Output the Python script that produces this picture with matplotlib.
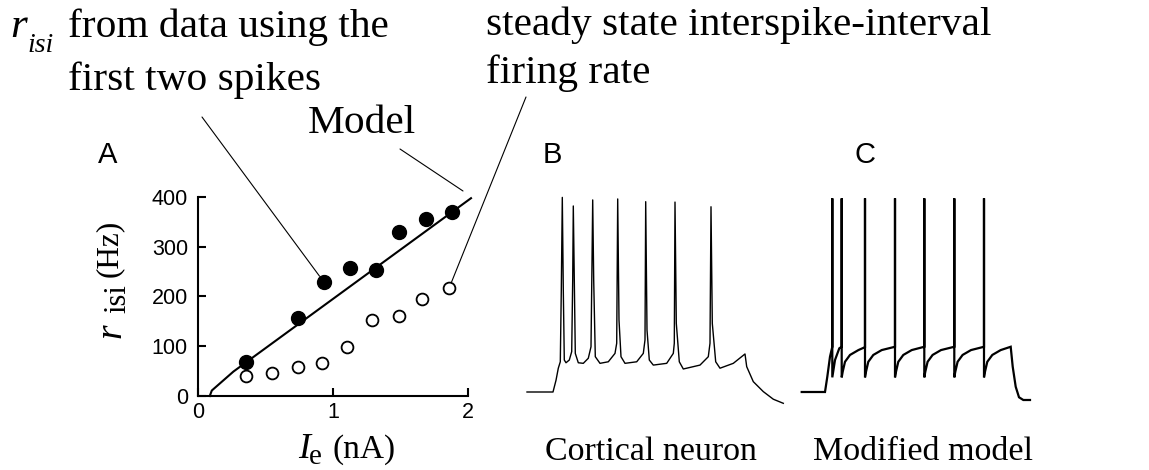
import matplotlib
matplotlib.use("Agg")
import matplotlib.pyplot as plt

# ---------------- data ----------------
# Panel A: firing rate vs injected current
ie_first = [0.353, 0.736, 0.932, 1.123, 1.316, 1.489, 1.686, 1.877]
r_first = [69, 157, 228, 257, 253, 330, 355, 370]
ie_steady = [0.353, 0.548, 0.736, 0.914, 1.099, 1.289, 1.484, 1.659, 1.857]
r_steady = [41, 46, 58, 67, 99, 153, 161, 194, 216]
model_ie = [0.085, 0.10, 0.26, 2.02]
model_r = [0, 11, 49, 397]
x_ticks = [0, 1, 2]
y_ticks = [0, 100, 200, 300, 400]

# Panel B: cortical neuron voltage trace (ms, mV)
B_t = [7, 20, 33, 36, 38.3, 40.3, 41.3, 42.3, 43.3, 44.3, 46, 49.3, 51.7, 52.7, 53.3,
       54.3, 55.3, 58.3, 63.3, 68.3, 71, 72, 72.7, 73.7, 75.3, 80, 88.3, 95, 96.7,
       97.7, 99, 101, 105, 116.7, 123.3, 125, 125.7, 127, 129.3, 133.3, 146.7,
       153.3, 154.3, 155, 156.3, 159.3, 163.3, 180, 188.3, 190, 191, 192.3, 195.7,
       200, 213.3, 225, 226.7, 233.3, 243.3, 253.3, 263.3]
B_v = [-70, -70, -70, -64, -57.8, -54.5, -17.7, 29.8, -17.7, -53.6, -55, -53.6, -49.3,
       -12.6, 25.4, -12.6, -50.2, -55, -55.3, -52.7, -46.8, -3.8, 28.5, -12.6, -51.9,
       -55.3, -54.5, -50.2, -45, 29, -33.1, -51.9, -55.3, -54.5, -50.2, -43.3, 27.6,
       -38.2, -53.6, -56.2, -55.3, -50.2, -45, 27.4, -34.8, -54.5, -58.2, -56.2,
       -51.9, -45, 25, -34.8, -54.5, -57.8, -55.3, -50.5, -57, -64.7, -69.8, -73.7,
       -75.8]

# Panel C: modified model voltage trace (ms, mV)
C_t = [6.7, 30, 32.3, 35, 37.3, 37.3, 37.3, 40, 44.3, 46.7, 46.7, 46.7,
       47.7, 50, 55, 63.4, 70, 70, 70,
       71, 73.3, 78.3, 86.7, 100, 100, 100,
       101, 103.3, 108.3, 116.7, 129.3, 129.3, 129.3,
       130.3, 132.6, 137.6, 146, 159.3, 159.3, 159.3,
       160.3, 162.6, 167.6, 176, 189, 189, 189,
       190, 192.3, 197.3, 205.7, 215.7, 217.7, 220.7, 224, 228.3, 235]
C_v = [-70, -70, -62.2, -51.9, -46.8, 29.3, -62.5, -53.6, -47.6, -46.8, 29.3, -62.5,
       -59.6, -54.5, -51, -48.5, -47, 29.3, -62.5,
       -59.6, -54.5, -51, -48.5, -46.8, 29.3, -62.5,
       -59.6, -54.5, -51, -48.5, -46.8, 29.3, -62.5,
       -59.6, -54.5, -51, -48.5, -46.8, 29.3, -62.5,
       -59.6, -54.5, -51, -48.5, -46.8, 29.3, -62.5,
       -59.6, -54.5, -51, -48.5, -46.8, -57, -67.3, -72.7, -74.1, -74.1]

# ---------------- figure ----------------
W, H = 1149, 470
fig = plt.figure(figsize=(W / 100, H / 100), dpi=100)
SERIF = ['Liberation Serif', 'DejaVu Serif']
SANS = ['Liberation Sans', 'DejaVu Sans']


def P(x, y):
    return x / W, 1 - y / H


# Panel A axes
axA = fig.add_axes([198.3 / W, (H - 396) / H, 270 / W, 199.3 / H])
axA.set_xlim(0, 2)
axA.set_ylim(0, 400)
for s in ['top', 'right']:
    axA.spines[s].set_visible(False)
for s in ['left', 'bottom']:
    axA.spines[s].set_linewidth(1.5)
axA.set_xticks(x_ticks)
axA.set_yticks(y_ticks)
axA.tick_params(direction='in', length=6, width=1.5, labelsize=15.5)
axA.tick_params(axis='y', pad=7.5)
axA.tick_params(axis='x', pad=4)
for lab in axA.get_xticklabels() + axA.get_yticklabels():
    lab.set_family(SANS)

axA.plot(model_ie, model_r, color='black', lw=1.5, clip_on=False, zorder=2)
axA.plot(ie_first, r_first, 'o', color='black', ms=10, clip_on=False, zorder=3)
axA.plot(ie_steady, r_steady, 'o', mfc='white', mec='black', mew=1.3, ms=8.5,
         clip_on=False, zorder=3)

# leader lines
axA.annotate('', xy=(ie_first[2], r_first[2]), xycoords='data',
             xytext=(202, H - 117), textcoords='figure pixels',
             arrowprops=dict(arrowstyle='-', lw=0.8, color='black', shrinkA=0, shrinkB=5.5))
axA.annotate('', xy=(ie_steady[-1], r_steady[-1]), xycoords='data',
             xytext=(526, H - 97), textcoords='figure pixels',
             arrowprops=dict(arrowstyle='-', lw=0.8, color='black', shrinkA=0, shrinkB=4.5))
axA.annotate('', xy=(463, H - 191), xycoords='figure pixels',
             xytext=(400, H - 149), textcoords='figure pixels',
             arrowprops=dict(arrowstyle='-', lw=0.8, color='black', shrinkA=0, shrinkB=0))

# Panel B and C axes (voltage traces)
ylo, yhi = -80, 35
axB = fig.add_axes([520 / W, (H - 411.5) / H, 270 / W, 224.25 / H])
axB.set_xlim(0, 270)
axB.set_ylim(ylo, yhi)
axB.axis('off')
axB.plot(B_t, B_v, color='black', lw=1.0, clip_on=False)

axC = fig.add_axes([795 / W, (H - 411.5) / H, 245 / W, 224.25 / H])
axC.set_xlim(0, 245)
axC.set_ylim(ylo, yhi)
axC.axis('off')
axC.plot(C_t, C_v, color='black', lw=1.6, clip_on=False, solid_joinstyle='miter')

# ---------------- texts ----------------
TOP = 29.8
fig.text(*P(10, 37), 'r', family=SERIF, style='italic', fontsize=31, va='baseline')
fig.text(*P(27, 52), 'isi', family=SERIF, style='italic', fontsize=20, va='baseline')
fig.text(*P(68, 37), 'from data using the', family=SERIF, fontsize=TOP, va='baseline')
fig.text(*P(68, 90), 'first two spikes', family=SERIF, fontsize=TOP, va='baseline')
fig.text(*P(308, 133), 'Model', family=SERIF, fontsize=TOP, va='baseline')
fig.text(*P(486, 35), 'steady state interspike-interval', family=SERIF, fontsize=TOP, va='baseline')
fig.text(*P(486, 83), 'firing rate', family=SERIF, fontsize=TOP, va='baseline')

fig.text(*P(98, 163), 'A', family=SANS, fontsize=21, va='baseline')
fig.text(*P(543, 163), 'B', family=SANS, fontsize=21, va='baseline')
fig.text(*P(854, 163), 'C', family=SANS, fontsize=21, va='baseline')

fig.text(*P(545, 460), 'Cortical neuron', family=SERIF, fontsize=24.5, va='baseline')
fig.text(*P(813, 460), 'Modified model', family=SERIF, fontsize=24.5, va='baseline')

# y label
fig.text(*P(120, 338), 'r', family=SERIF, style='italic', fontsize=27, rotation=90,
         rotation_mode='anchor', ha='left', va='baseline')
fig.text(*P(125.5, 313), 'isi', family=SERIF, fontsize=22, rotation=90,
         rotation_mode='anchor', ha='left', va='baseline')
fig.text(*P(117, 277), '(Hz)', family=SERIF, fontsize=22.5, rotation=90,
         rotation_mode='anchor', ha='left', va='baseline')

# x label
fig.text(*P(298, 458), 'I', family=SERIF, style='italic', fontsize=26, va='baseline')
fig.text(*P(309, 464), 'e', family=SERIF, fontsize=21, va='baseline')
fig.text(*P(333, 458), '(nA)', family=SERIF, fontsize=24, va='baseline')

fig.savefig('out.png', dpi=100)
